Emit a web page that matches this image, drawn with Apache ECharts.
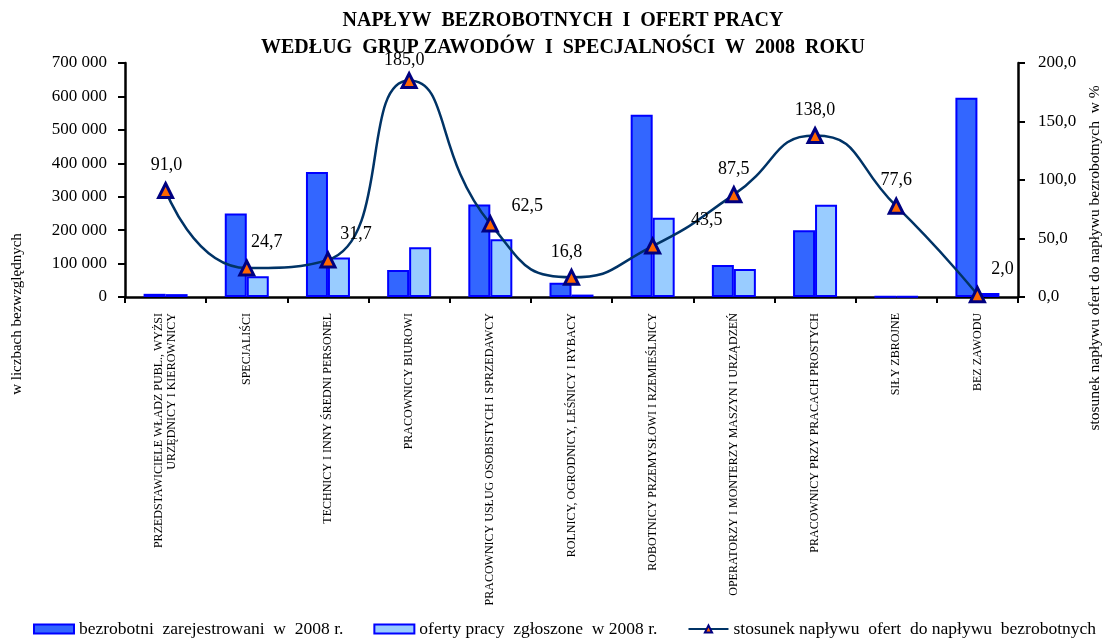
<!DOCTYPE html>
<html>
<head>
<meta charset="utf-8">
<script src="https://cdn.jsdelivr.net/npm/echarts@6/dist/echarts.min.js"></script>
<style>
  html, body { margin: 0; padding: 0; background: #fff; }
  #chart { width: 1104px; height: 638px; }
</style>
</head>
<body>
<div id="chart"></div>
<script>
// grupy zawodów
const categories = [
  'PRZEDSTAWICIELE WŁADZ PUBL., WYŻSI\nURZĘDNICY I KIEROWNICY',
  'SPECJALIŚCI',
  'TECHNICY I INNY ŚREDNI PERSONEL',
  'PRACOWNICY BIUROWI',
  'PRACOWNICY USŁUG OSOBISTYCH I SPRZEDAWCY',
  'ROLNICY, OGRODNICY, LEŚNICY I RYBACY',
  'ROBOTNICY PRZEMYSŁOWI I RZEMIEŚLNICY',
  'OPERATORZY I MONTERZY MASZYN I URZĄDZEŃ',
  'PRACOWNICY PRZY PRACACH PROSTYCH',
  'SIŁY ZBROJNE',
  'BEZ ZAWODU'
];
const bezrobotni = [9500, 250000, 374000, 80500, 277000, 43000, 545000, 96000, 200000, 1200, 596000];
const oferty = [8600, 61800, 118500, 149000, 173000, 7200, 237000, 84000, 276000, 930, 11900];
const stosunek = [91.0, 24.7, 31.7, 185.0, 62.5, 16.8, 43.5, 87.5, 138.0, 77.6, 2.0];

// przesunięcia etykiet (jak ręcznie poprawione w oryginale)
const labelShift = [[1, 0], [20, 0], [28, 0], [-5, 5], [37, 8], [-5, 0], [54, 0], [0, 0], [0, 0], [0, 0], [25, 0]];

const FONT = '"Liberation Serif", "Times New Roman", serif';
const fmtPl = v => v.toFixed(1).replace('.', ',');

const chart = echarts.init(document.getElementById('chart'));

const option = {
  backgroundColor: '#fff',
  animation: false,
  textStyle: { fontFamily: FONT, color: '#000' },
  title: {
    text: 'NAPŁYW  BEZROBOTNYCH  I  OFERT PRACY\nWEDŁUG  GRUP ZAWODÓW  I  SPECJALNOŚCI  W  2008  ROKU',
    left: 558,
    top: 2,
    textAlign: 'center',
    textStyle: {
      fontFamily: FONT,
      fontSize: 20,
      fontWeight: 'bold',
      lineHeight: 27,
      color: '#000'
    }
  },
  legend: {
    left: 33,
    top: 620,
    width: 1071,
    padding: 0,
    itemWidth: 40,
    itemHeight: 9,
    itemGap: 30,
    textStyle: { fontFamily: FONT, fontSize: 17.5, color: '#000' },
    data: [
      { name: 'bezrobotni  zarejestrowani  w  2008 r.', icon: 'rect' },
      { name: 'oferty pracy  zgłoszone  w 2008 r.', icon: 'rect' },
      { name: 'stosunek napływu  ofert  do napływu  bezrobotnych' }
    ]
  },
  grid: { left: 125, right: 86, top: 63, bottom: 341, outerBoundsMode: 'none' },
  xAxis: {
    type: 'category',
    data: categories,
    axisLine: { lineStyle: { color: '#000', width: 2.5 } },
    axisTick: { show: true, length: 6, lineStyle: { color: '#000', width: 2 } },
    axisLabel: {
      rotate: 90,
      interval: 0,
      margin: 16,
      fontFamily: FONT,
      fontSize: 12,
      color: '#000',
      lineHeight: 13
    }
  },
  yAxis: [
    {
      type: 'value',
      min: 0,
      max: 700000,
      interval: 100000,
      name: 'w liczbach bezwzględnych',
      nameLocation: 'middle',
      nameRotate: 90,
      nameGap: 100,
      nameTextStyle: { fontFamily: FONT, fontSize: 15, color: '#000', padding: [0, 268, 0, 0] },
      axisLine: { show: true, lineStyle: { color: '#000', width: 2.5 } },
      axisTick: { show: true, length: 7, lineStyle: { color: '#000', width: 2 } },
      splitLine: { show: false },
      axisLabel: {
        margin: 18,
        fontFamily: FONT,
        fontSize: 17,
        color: '#000',
        formatter: v => String(v).replace(/\B(?=(\d{3})+(?!\d))/g, ' ')
      }
    },
    {
      type: 'value',
      min: 0,
      max: 200,
      interval: 50,
      position: 'right',
      name: 'stosunek napływu ofert do napływu bezrobotnych  w %',
      nameLocation: 'middle',
      nameRotate: 90,
      nameGap: 68,
      nameTextStyle: { fontFamily: FONT, fontSize: 15.5, color: '#000', padding: [0, 156, 0, 0] },
      axisLine: { show: true, lineStyle: { color: '#000', width: 2.5 } },
      axisTick: { show: true, length: 7, lineStyle: { color: '#000', width: 2 } },
      splitLine: { show: false },
      axisLabel: {
        margin: 20,
        fontFamily: FONT,
        fontSize: 17,
        color: '#000',
        formatter: v => fmtPl(v)
      }
    }
  ],
  series: [
    {
      name: 'bezrobotni  zarejestrowani  w  2008 r.',
      type: 'bar',
      yAxisIndex: 0,
      barWidth: 22,
      barGap: '0%',
      itemStyle: { color: '#3366FF', borderColor: '#0000FF', borderWidth: 2 },
      data: bezrobotni
    },
    {
      name: 'oferty pracy  zgłoszone  w 2008 r.',
      type: 'bar',
      yAxisIndex: 0,
      barWidth: 22,
      barGap: '0%',
      itemStyle: { color: '#99CCFF', borderColor: '#0000FF', borderWidth: 2 },
      data: oferty
    },
    {
      name: 'stosunek napływu  ofert  do napływu  bezrobotnych',
      type: 'line',
      yAxisIndex: 1,
      smooth: 0.55,
      z: 5,
      symbol: 'triangle',
      symbolSize: 14,
      lineStyle: { color: '#003366', width: 2.5 },
      itemStyle: { color: '#FF6600', borderColor: '#000080', borderWidth: 3 },
      label: {
        show: true,
        position: 'top',
        distance: 8,
        fontFamily: FONT,
        fontSize: 18,
        color: '#000',
        formatter: p => fmtPl(p.value)
      },
      data: stosunek.map((v, i) => ({ value: v, label: { offset: labelShift[i] } }))
    }
  ]
};

chart.setOption(option);
</script>
</body>
</html>
